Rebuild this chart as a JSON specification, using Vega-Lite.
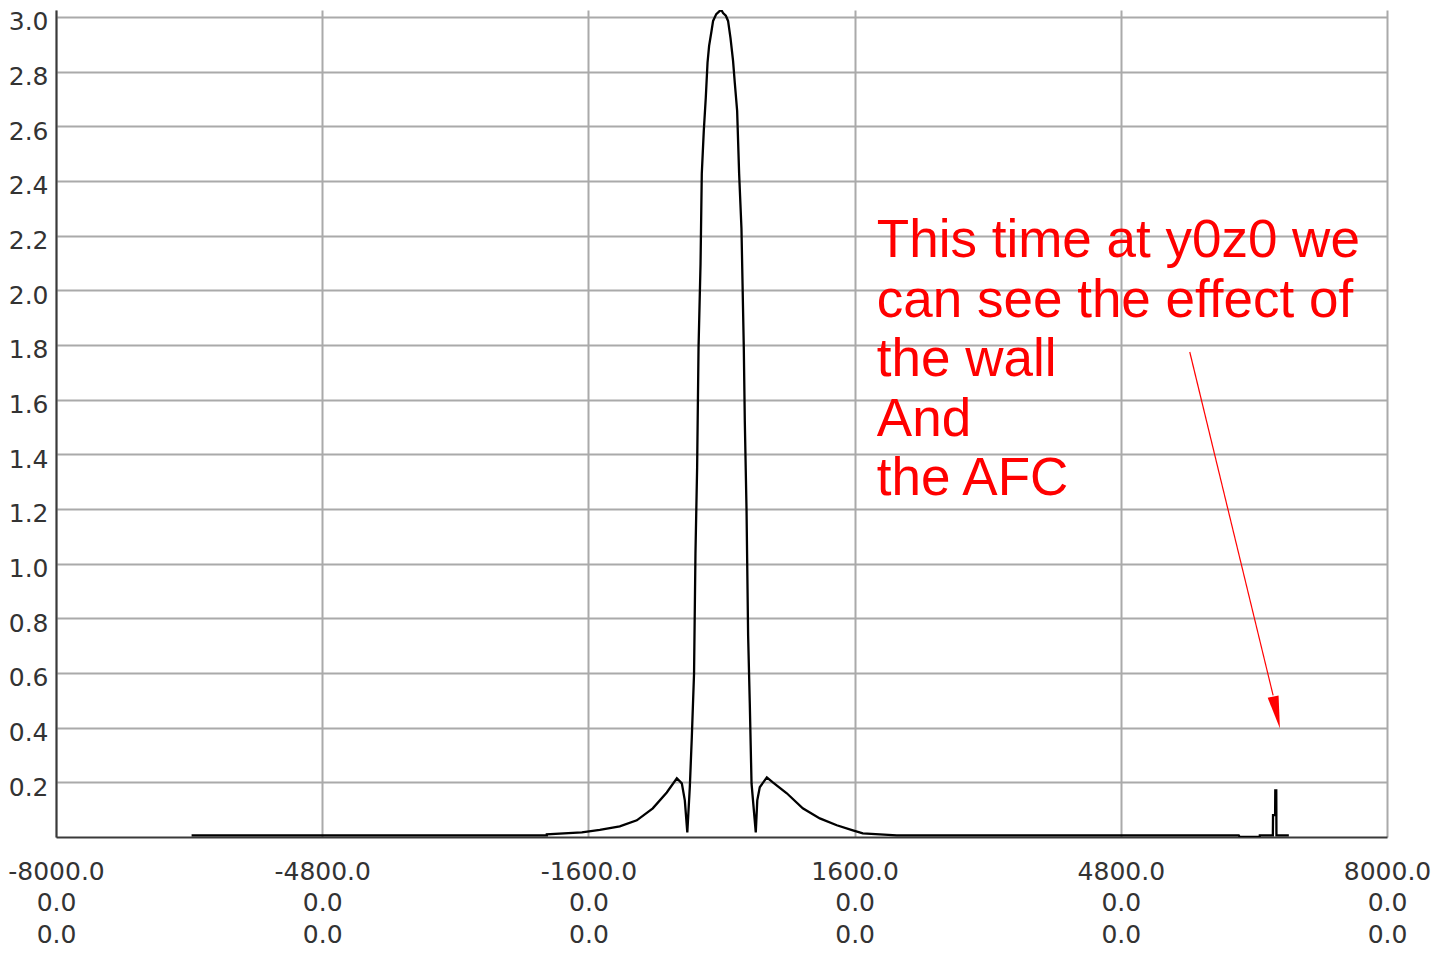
{
  "$schema": "https://vega.github.io/schema/vega-lite/v6.json",
  "autosize": "none",
  "padding": {"left": 56, "top": 10, "right": 54, "bottom": 117},
  "width": 1331,
  "height": 827,
  "background": "white",
  "config": {
    "view": {"stroke": null},
    "axis": {
      "labelFont": "DejaVu Sans",
      "labelFontSize": 25,
      "labelColor": "#333333",
      "domainColor": "#3a3a3a",
      "domainWidth": 2,
      "gridColor": "#aaaaaa",
      "gridWidth": 2,
      "gridOpacity": 1,
      "ticks": false,
      "title": null
    }
  },
  "data": {
    "values": [
      {"x": -6370, "y": 0.006},
      {"x": -2100, "y": 0.006},
      {"x": -2100, "y": 0.010},
      {"x": -1679, "y": 0.017},
      {"x": -1463, "y": 0.026},
      {"x": -1223, "y": 0.039},
      {"x": -1018, "y": 0.061},
      {"x": -826, "y": 0.105},
      {"x": -658, "y": 0.163},
      {"x": -537, "y": 0.215},
      {"x": -477, "y": 0.196},
      {"x": -441, "y": 0.134},
      {"x": -411, "y": 0.017},
      {"x": -381, "y": 0.182},
      {"x": -357, "y": 0.364},
      {"x": -330, "y": 0.598},
      {"x": -313, "y": 1.037},
      {"x": -293, "y": 1.351},
      {"x": -276, "y": 1.79},
      {"x": -252, "y": 2.097},
      {"x": -237, "y": 2.426},
      {"x": -213, "y": 2.583},
      {"x": -189, "y": 2.704},
      {"x": -168, "y": 2.832},
      {"x": -149, "y": 2.894},
      {"x": -120, "y": 2.948},
      {"x": -101, "y": 2.985},
      {"x": -63, "y": 3.01},
      {"x": -20, "y": 3.022},
      {"x": 0, "y": 3.024},
      {"x": 19, "y": 3.014},
      {"x": 52, "y": 3.004},
      {"x": 79, "y": 2.985},
      {"x": 108, "y": 2.923},
      {"x": 139, "y": 2.839},
      {"x": 160, "y": 2.758},
      {"x": 188, "y": 2.656},
      {"x": 212, "y": 2.426},
      {"x": 240, "y": 2.225},
      {"x": 268, "y": 1.79},
      {"x": 280, "y": 1.523},
      {"x": 301, "y": 1.194},
      {"x": 320, "y": 0.737},
      {"x": 340, "y": 0.489},
      {"x": 361, "y": 0.196},
      {"x": 412, "y": 0.017},
      {"x": 430, "y": 0.134},
      {"x": 460, "y": 0.182},
      {"x": 545, "y": 0.218},
      {"x": 617, "y": 0.2},
      {"x": 785, "y": 0.16},
      {"x": 977, "y": 0.105},
      {"x": 1182, "y": 0.068},
      {"x": 1386, "y": 0.043},
      {"x": 1579, "y": 0.024},
      {"x": 1699, "y": 0.013},
      {"x": 2107, "y": 0.006},
      {"x": 6218, "y": 0.006},
      {"x": 6230, "y": 0.0},
      {"x": 6470, "y": 0.0},
      {"x": 6471, "y": 0.006},
      {"x": 6628, "y": 0.006},
      {"x": 6630, "y": 0.08},
      {"x": 6655, "y": 0.08},
      {"x": 6657, "y": 0.17},
      {"x": 6669, "y": 0.17},
      {"x": 6671, "y": 0.006},
      {"x": 6820, "y": 0.006}
    ]
  },
  "layer": [
    {
      "mark": {"type": "line", "color": "black", "strokeWidth": 2.3, "clip": true},
      "encoding": {
        "x": {
          "field": "x", "type": "quantitative",
          "scale": {"domain": [-8000, 8000], "nice": false, "zero": false},
          "axis": {
            "values": [-8000, -4800, -1600, 1600, 4800, 8000],
            "labelExpr": "[(datum.value < 0 ? '-' : '') + format(abs(datum.value), '.1f'), '0.0', '0.0']",
            "labelLineHeight": 31.5,
            "labelBaseline": "top",
            "labelPadding": 22,
            "labelFlush": false,
            "labelOverlap": false
          }
        },
        "y": {
          "field": "y", "type": "quantitative",
          "scale": {"domain": [0, 3.025], "nice": false},
          "axis": {
            "values": [0.2, 0.4, 0.6, 0.8, 1.0, 1.2, 1.4, 1.6, 1.8, 2.0, 2.2, 2.4, 2.6, 2.8, 3.0],
            "format": ".1f",
            "labelPadding": 8,
            "labelOffset": 5,
            "labelOverlap": false
          }
        },
        "order": {"field": "x", "type": "quantitative"}
      }
    },
    {
      "data": {"values": [{"note": "annotation"}]},
      "mark": {
        "type": "text",
        "text": ["This time at y0z0 we", "can see the effect of", "the wall", "And", "the AFC"],
        "color": "#ff0000",
        "font": "Liberation Sans",
        "fontSize": 53,
        "lineHeight": 59.5,
        "align": "left",
        "baseline": "alphabetic"
      },
      "encoding": {
        "x": {"datum": 1867, "type": "quantitative"},
        "y": {"datum": 2.121, "type": "quantitative"}
      }
    },
    {
      "data": {"values": [{"note": "arrow"}]},
      "mark": {"type": "rule", "color": "#ff0000", "strokeWidth": 1.2},
      "encoding": {
        "x": {"datum": 5629, "type": "quantitative"},
        "y": {"datum": 1.774, "type": "quantitative"},
        "x2": {"datum": 6631},
        "y2": {"datum": 0.518}
      }
    },
    {
      "data": {"values": [{"note": "arrowhead"}]},
      "mark": {
        "type": "point",
        "shape": "M -0.34 -1 L 0.34 -1 L 0 1 Z",
        "size": 1069,
        "angle": 348,
        "filled": true,
        "opacity": 1,
        "color": "#ff0000"
      },
      "encoding": {
        "x": {"datum": 6672, "type": "quantitative"},
        "y": {"datum": 0.455, "type": "quantitative"}
      }
    }
  ]
}
